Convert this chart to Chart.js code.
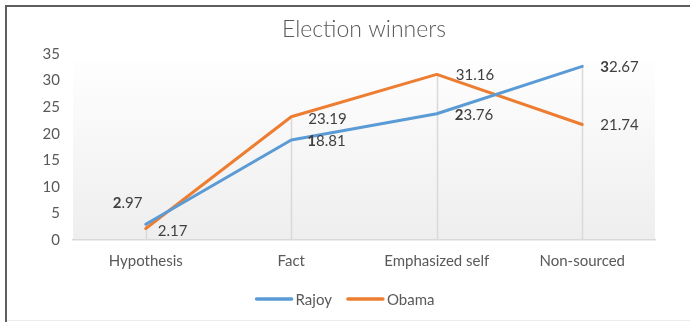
<!DOCTYPE html>
<html>
<head>
<meta charset="utf-8">
<script src="https://cdn.jsdelivr.net/npm/chart.js@4.4.1/dist/chart.umd.min.js"></script>
<style>
  html, body { margin: 0; padding: 0; background: #ffffff; }
  #wrap { position: relative; width: 690px; height: 322px; }
</style>
</head>
<body>
<div id="wrap"><canvas id="c" width="690" height="322"></canvas></div>
<script>
// Share of statements by type for each election winner
const categories = ['Hypothesis', 'Fact', 'Emphasized self', 'Non-sourced'];
const rajoyValues = [2.97, 18.81, 23.76, 32.67];
const obamaValues = [2.17, 23.19, 31.16, 21.74];
const seriesNames = ['Rajoy', 'Obama'];
const chartTitle = 'Election winners';

const FONT = 'Lato, "Open Sans", sans-serif';
const BLUE = '#5b9bd5';
const ORANGE = '#ed7d31';

// Value label placement per point: [left-edge offset from point, vertical offset]
const labelOffsets = [
  [[-33, -21], [16, 1], [18, 1], [18, 1]],
  [[12, 3], [17, 2], [19, 1], [18, 1]]
];
// Rajoy labels render their leading digit in bold
const boldLead = [true, false];

const framePlugin = {
  id: 'frame',
  beforeDraw(chart) {
    const { ctx, chartArea: a } = chart;
    ctx.save();
    ctx.fillStyle = '#ffffff';
    ctx.fillRect(0, 0, chart.width, chart.height);
    // plot area shading
    const top = a.top + 7;
    const g = ctx.createLinearGradient(0, top, 0, a.bottom);
    g.addColorStop(0, '#fefefe');
    g.addColorStop(1, '#eeeeee');
    ctx.fillStyle = g;
    ctx.fillRect(a.left, top, a.right - a.left, a.bottom - top);
    // outer frame
    ctx.strokeStyle = '#5e5e5e';
    ctx.lineWidth = 2;
    ctx.beginPath();
    ctx.moveTo(6, chart.height);
    ctx.lineTo(6, 6);
    ctx.lineTo(chart.width, 6);
    ctx.stroke();
    ctx.strokeStyle = '#ececec';
    ctx.lineWidth = 1;
    ctx.beginPath();
    ctx.moveTo(7, chart.height - 1.5);
    ctx.lineTo(chart.width, chart.height - 1.5);
    ctx.stroke();
    ctx.restore();
  }
};

const dropLinePlugin = {
  id: 'dropLines',
  beforeDatasetsDraw(chart) {
    const { ctx, chartArea: a, scales: { x, y } } = chart;
    ctx.save();
    ctx.strokeStyle = '#d9d9d9';
    ctx.lineWidth = 1.5;
    categories.forEach((c, i) => {
      const hi = Math.max(rajoyValues[i], obamaValues[i]);
      const px = Math.round(x.getPixelForValue(i)) + 0.5;
      ctx.beginPath();
      ctx.moveTo(px, y.getPixelForValue(hi));
      ctx.lineTo(px, a.bottom);
      ctx.stroke();
    });
    ctx.restore();
  }
};

const valueLabelPlugin = {
  id: 'valueLabels',
  afterDatasetsDraw(chart) {
    const { ctx } = chart;
    ctx.save();
    ctx.textBaseline = 'middle';
    ctx.textAlign = 'left';
    ctx.fillStyle = '#404040';
    chart.data.datasets.forEach((ds, di) => {
      const meta = chart.getDatasetMeta(di);
      meta.data.forEach((pt, i) => {
        const txt = ds.data[i].toFixed(2);
        const [dx, dy] = labelOffsets[di][i];
        let xx = pt.x + dx;
        const yy = pt.y + dy;
        if (boldLead[di]) {
          ctx.font = 'bold 15px ' + FONT;
          ctx.fillText(txt[0], xx, yy);
          xx += ctx.measureText(txt[0]).width;
          ctx.font = '15px ' + FONT;
          ctx.fillText(txt.slice(1), xx, yy);
        } else {
          ctx.font = '15px ' + FONT;
          ctx.fillText(txt, xx, yy);
        }
      });
    });
    ctx.restore();
  }
};

const titleLegendPlugin = {
  id: 'titleLegend',
  afterDraw(chart) {
    const { ctx, chartArea: a } = chart;
    ctx.save();
    // title
    ctx.font = '300 23px ' + FONT;
    ctx.fillStyle = '#595959';
    ctx.textAlign = 'center';
    ctx.textBaseline = 'middle';
    ctx.fillText(chartTitle, (a.left + a.right) / 2, 30);
    // legend
    ctx.font = '15px ' + FONT;
    ctx.textAlign = 'left';
    const colors = [BLUE, ORANGE];
    const lineW = 37, gapText = 3, gapItem = 15;
    const widths = seriesNames.map(n => lineW + gapText + ctx.measureText(n).width);
    const total = widths.reduce((s, w) => s + w, 0) + gapItem * (widths.length - 1);
    let lx = chart.width / 2 - total / 2;
    const ly = 300;
    seriesNames.forEach((n, i) => {
      ctx.strokeStyle = colors[i];
      ctx.lineWidth = 3.5;
      ctx.lineCap = 'round';
      ctx.beginPath();
      ctx.moveTo(lx + 1, ly - 1);
      ctx.lineTo(lx + lineW - 1, ly - 1);
      ctx.stroke();
      ctx.fillStyle = '#595959';
      ctx.fillText(n, lx + lineW + gapText, ly);
      lx += widths[i] + gapItem;
    });
    ctx.restore();
  }
};

new Chart(document.getElementById('c'), {
  type: 'line',
  data: {
    labels: categories,
    datasets: [
      { label: seriesNames[0], data: rajoyValues, borderColor: BLUE, backgroundColor: BLUE },
      { label: seriesNames[1], data: obamaValues, borderColor: ORANGE, backgroundColor: ORANGE }
    ]
  },
  options: {
    responsive: false,
    animation: false,
    layout: { padding: { top: 54, right: 35, bottom: 0, left: 0 } },
    elements: {
      line: { borderWidth: 3, tension: 0, borderCapStyle: 'round', borderJoinStyle: 'round' },
      point: { radius: 0, hoverRadius: 0 }
    },
    plugins: {
      legend: { display: false },
      title: { display: false },
      tooltip: { enabled: false }
    },
    scales: {
      x: {
        offset: true,
        grid: { display: false, drawTicks: false },
        border: { display: true, color: '#d9d9d9', width: 1.5 },
        ticks: { color: '#595959', font: { family: FONT, size: 15 }, padding: 12, maxRotation: 0 },
        afterFit(s) { s.height = 82; }
      },
      y: {
        min: 0,
        max: 35,
        grid: { display: false, drawTicks: false },
        border: { display: false },
        ticks: { stepSize: 5, color: '#595959', font: { family: FONT, size: 15 }, padding: 13 },
        afterFit(s) { s.width = 73; }
      }
    }
  },
  plugins: [framePlugin, dropLinePlugin, valueLabelPlugin, titleLegendPlugin]
});
</script>
</body>
</html>
